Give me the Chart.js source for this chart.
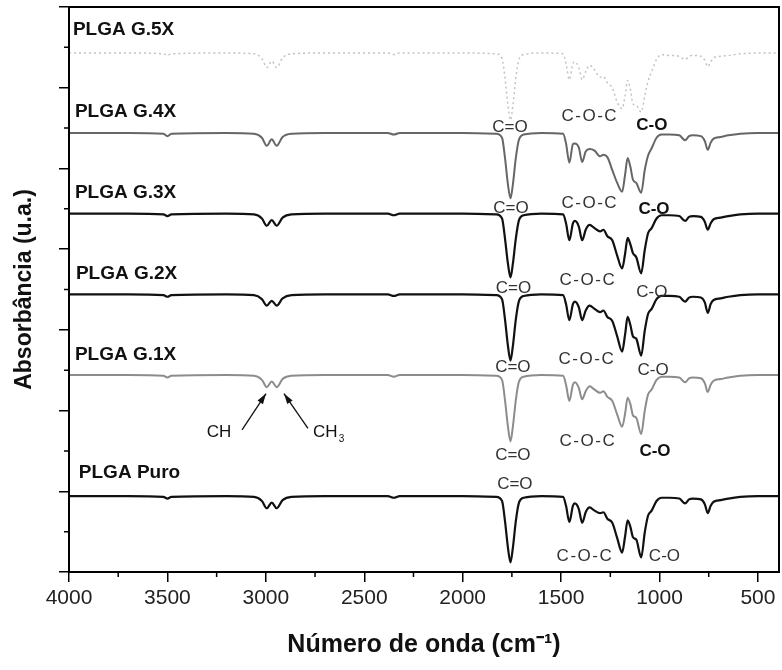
<!DOCTYPE html>
<html lang="pt">
<head>
<meta charset="UTF-8">
<title>FTIR - PLGA</title>
<script src="https://cdn.jsdelivr.net/npm/chart.js"></script>
<style>
  body { margin: 0; background: #fff; }
</style>
</head>
<body>
<canvas id="ftirChart" width="782" height="670"></canvas>
<script>
// wavenumbers (cm-1) shared by every spectrum
const wavenumber = [4000, 3700, 3520, 3500, 3480, 3200, 3060, 3020, 2995, 2970, 2945, 2915, 2870, 2700, 2380, 2350, 2320, 2000,
  1830, 1800, 1785, 1770, 1757, 1745, 1730, 1715, 1690, 1600, 1490, 1475, 1458, 1440, 1430, 1410, 1393, 1375, 1355, 1330,
  1302, 1285, 1265, 1240, 1215, 1190, 1175, 1162, 1148, 1135, 1118, 1093, 1075, 1058, 1040, 1015, 990, 950, 900, 870, 850,
  830, 790, 770, 755, 740, 725, 690, 650, 590, 500, 393];

// absorbance (u.a.), each spectrum already stacked as in the figure
const plgaG5x = [6.43, 6.43, 6.42, 6.40, 6.42, 6.43, 6.42, 6.36, 6.25, 6.33, 6.25, 6.37, 6.42, 6.43, 6.43, 6.41, 6.43, 6.43,
  6.42, 6.36, 6.12, 5.78, 5.60, 5.78, 6.12, 6.34, 6.41, 6.43, 6.42, 6.30, 6.10, 6.30, 6.32, 6.25, 6.10, 6.20, 6.28, 6.22,
  6.13, 6.14, 6.06, 6.00, 5.82, 5.74, 5.90, 6.09, 5.98, 5.80, 5.78, 5.70, 5.90, 6.08, 6.20, 6.35, 6.41, 6.40, 6.39, 6.35, 6.39,
  6.40, 6.39, 6.34, 6.26, 6.32, 6.37, 6.39, 6.40, 6.42, 6.43, 6.43];
const plgaG4x = [5.44, 5.44, 5.43, 5.40, 5.43, 5.44, 5.43, 5.38, 5.28, 5.36, 5.28, 5.39, 5.43, 5.44, 5.44, 5.42, 5.44, 5.44,
  5.43, 5.38, 5.13, 4.80, 4.63, 4.80, 5.13, 5.35, 5.42, 5.44, 5.43, 5.31, 5.07, 5.30, 5.31, 5.26, 5.08, 5.21, 5.24, 5.22,
  5.15, 5.17, 5.14, 4.98, 4.82, 4.71, 4.92, 5.13, 5.02, 4.86, 4.82, 4.70, 4.98, 5.16, 5.25, 5.38, 5.42, 5.42, 5.41, 5.35, 5.40,
  5.41, 5.40, 5.34, 5.23, 5.32, 5.37, 5.39, 5.41, 5.43, 5.44, 5.44];
const plgaG3x = [4.44, 4.44, 4.43, 4.41, 4.43, 4.44, 4.43, 4.38, 4.29, 4.36, 4.29, 4.39, 4.43, 4.44, 4.44, 4.42, 4.44, 4.44,
  4.43, 4.38, 4.13, 3.82, 3.65, 3.82, 4.13, 4.35, 4.42, 4.44, 4.43, 4.32, 4.11, 4.32, 4.35, 4.28, 4.11, 4.24, 4.30, 4.26,
  4.22, 4.24, 4.16, 4.11, 3.92, 3.76, 3.94, 4.14, 4.06, 3.95, 3.90, 3.70, 3.99, 4.20, 4.26, 4.38, 4.42, 4.42, 4.41, 4.35, 4.40,
  4.41, 4.40, 4.34, 4.24, 4.32, 4.37, 4.39, 4.41, 4.43, 4.44, 4.44];
const plgaG2x = [3.44, 3.44, 3.43, 3.41, 3.43, 3.44, 3.43, 3.38, 3.30, 3.36, 3.30, 3.39, 3.43, 3.44, 3.44, 3.42, 3.44, 3.44,
  3.43, 3.38, 3.13, 2.80, 2.62, 2.80, 3.13, 3.35, 3.42, 3.44, 3.43, 3.32, 3.12, 3.32, 3.35, 3.28, 3.12, 3.24, 3.30, 3.26,
  3.22, 3.24, 3.16, 3.11, 2.92, 2.73, 2.94, 3.16, 3.06, 2.92, 2.89, 2.68, 2.99, 3.20, 3.26, 3.38, 3.42, 3.42, 3.41, 3.35, 3.40,
  3.41, 3.40, 3.34, 3.21, 3.32, 3.37, 3.39, 3.41, 3.43, 3.44, 3.44];
const plgaG1x = [2.44, 2.44, 2.43, 2.41, 2.43, 2.44, 2.43, 2.38, 2.29, 2.36, 2.29, 2.39, 2.43, 2.44, 2.44, 2.42, 2.44, 2.44,
  2.43, 2.38, 2.13, 1.80, 1.62, 1.80, 2.13, 2.35, 2.42, 2.44, 2.43, 2.32, 2.12, 2.32, 2.35, 2.28, 2.14, 2.24, 2.30, 2.26,
  2.22, 2.24, 2.17, 2.12, 1.95, 1.80, 1.96, 2.16, 2.08, 1.94, 1.91, 1.71, 2.00, 2.20, 2.26, 2.38, 2.42, 2.42, 2.41, 2.35, 2.40,
  2.41, 2.40, 2.34, 2.23, 2.32, 2.37, 2.39, 2.41, 2.43, 2.44, 2.44];
const plgaPuro = [0.94, 0.94, 0.93, 0.91, 0.93, 0.94, 0.93, 0.88, 0.79, 0.86, 0.79, 0.89, 0.93, 0.94, 0.94, 0.92, 0.94, 0.94,
  0.93, 0.88, 0.63, 0.30, 0.12, 0.30, 0.63, 0.85, 0.92, 0.94, 0.93, 0.82, 0.62, 0.82, 0.85, 0.78, 0.61, 0.74, 0.80, 0.76,
  0.73, 0.74, 0.66, 0.61, 0.42, 0.24, 0.44, 0.64, 0.56, 0.43, 0.40, 0.18, 0.49, 0.70, 0.76, 0.88, 0.92, 0.92, 0.91, 0.85, 0.90,
  0.91, 0.90, 0.84, 0.73, 0.82, 0.87, 0.89, 0.91, 0.93, 0.94, 0.94];

const xMajorTicks = [4000, 3500, 3000, 2500, 2000, 1500, 1000, 500];
const xMinorTicks = [3750, 3250, 2750, 2250, 1750, 1250, 750];
const yMajorTicks = [0, 1, 2, 3, 4, 5, 6, 7];
const yMinorTicks = [0.5, 1.5, 2.5, 3.5, 4.5, 5.5, 6.5];

// sample names, placed in data units [text, wavenumber, absorbance]
const sampleLabels = [
  ['PLGA G.5X', 3980, 6.72],
  ['PLGA G.4X', 3970, 5.70],
  ['PLGA G.3X', 3970, 4.70],
  ['PLGA G.2X', 3965, 3.70],
  ['PLGA G.1X', 3970, 2.69],
  ['PLGA Puro', 3950, 1.23]
];

// band assignments [text, wavenumber, absorbance, bold]
const bandLabels = [
  ['C=O', 1760, 5.51, false], ['C-O-C', 1354, 5.64, false], ['C-O', 1039, 5.53, true],
  ['C=O', 1755, 4.51, false], ['C-O-C', 1354, 4.57, false], ['C-O', 1028, 4.49, true],
  ['C=O', 1742, 3.52, false], ['C-O-C', 1364, 3.62, false], ['C-O', 1039, 3.47, false],
  ['C=O', 1745, 2.53, false], ['C-O-C', 1369, 2.63, false], ['C-O', 1033, 2.50, false],
  ['C=O', 1745, 1.44, false], ['C-O-C', 1364, 1.62, false], ['C-O', 1023, 1.49, true],
  ['C=O', 1735, 1.09, false], ['C-O-C', 1379, 0.19, false], ['C-O', 975, 0.19, false]
];

// CH / CH3 arrows [tail wn, tail abs, tip wn, tip abs]
const chArrows = [
  [3121, 1.76, 2999, 2.21],
  [2786, 1.78, 2908, 2.21]
];

const FONT = 'Arial, "Liberation Sans", sans-serif';

function toPoints(values) {
  return wavenumber.map((w, i) => ({ x: w, y: values[i] }));
}

const overlay = {
  id: 'overlay',
  afterDraw(chart) {
    const { ctx, chartArea: a, scales: { x, y } } = chart;
    ctx.save();
    ctx.strokeStyle = '#000';
    ctx.lineWidth = 2;
    ctx.strokeRect(a.left, a.top, a.right - a.left, a.bottom - a.top);

    // minor ticks
    ctx.lineWidth = 1.5;
    ctx.beginPath();
    xMinorTicks.forEach(v => {
      const px = x.getPixelForValue(v);
      ctx.moveTo(px, a.bottom);
      ctx.lineTo(px, a.bottom + 5);
    });
    yMinorTicks.forEach(v => {
      const py = y.getPixelForValue(v);
      ctx.moveTo(a.left, py);
      ctx.lineTo(a.left - 5, py);
    });
    ctx.stroke();

    // sample names
    ctx.fillStyle = '#111';
    ctx.font = 'bold 19px ' + FONT;
    ctx.textAlign = 'left';
    ctx.textBaseline = 'middle';
    sampleLabels.forEach(([t, w, v]) => {
      ctx.fillText(t, x.getPixelForValue(w), y.getPixelForValue(v));
    });

    // band labels
    ctx.textAlign = 'center';
    bandLabels.forEach(([t, w, v, bold]) => {
      ctx.font = (bold ? 'bold ' : '') + '17px ' + FONT;
      ctx.fillStyle = bold ? '#111' : '#333';
      ctx.letterSpacing = t === 'C-O-C' ? '1.5px' : '0px';
      ctx.fillText(t, x.getPixelForValue(w), y.getPixelForValue(v));
    });
    ctx.letterSpacing = '0px';

    // CH / CH3 arrows
    ctx.strokeStyle = '#111';
    ctx.fillStyle = '#111';
    ctx.lineWidth = 1.3;
    chArrows.forEach(([w0, v0, w1, v1]) => {
      const x0 = x.getPixelForValue(w0), y0 = y.getPixelForValue(v0);
      const x1 = x.getPixelForValue(w1), y1 = y.getPixelForValue(v1);
      const ang = Math.atan2(y1 - y0, x1 - x0);
      ctx.beginPath();
      ctx.moveTo(x0, y0);
      ctx.lineTo(x1, y1);
      ctx.stroke();
      ctx.beginPath();
      ctx.moveTo(x1, y1);
      ctx.lineTo(x1 - 11 * Math.cos(ang - 0.3), y1 - 11 * Math.sin(ang - 0.3));
      ctx.lineTo(x1 - 11 * Math.cos(ang + 0.3), y1 - 11 * Math.sin(ang + 0.3));
      ctx.closePath();
      ctx.fill();
    });
    ctx.font = '17px ' + FONT;
    ctx.textAlign = 'center';
    ctx.fillText('CH', x.getPixelForValue(3238), y.getPixelForValue(1.73));
    ctx.textAlign = 'left';
    const chX = x.getPixelForValue(2760), chY = y.getPixelForValue(1.73);
    ctx.fillText('CH', chX, chY);
    const chW = ctx.measureText('CH').width;
    ctx.font = '10px ' + FONT;
    ctx.fillText('3', chX + chW + 1, chY + 7);
    ctx.restore();
  }
};

const ctx = document.getElementById('ftirChart').getContext('2d');
new Chart(ctx, {
  type: 'line',
  data: {
    datasets: [
      { label: 'PLGA G.5X', data: toPoints(plgaG5x), borderColor: '#c2c2c2', borderWidth: 1.5, borderDash: [2, 3] },
      { label: 'PLGA G.4X', data: toPoints(plgaG4x), borderColor: '#666666', borderWidth: 2 },
      { label: 'PLGA G.3X', data: toPoints(plgaG3x), borderColor: '#111111', borderWidth: 2.2 },
      { label: 'PLGA G.2X', data: toPoints(plgaG2x), borderColor: '#111111', borderWidth: 2.2 },
      { label: 'PLGA G.1X', data: toPoints(plgaG1x), borderColor: '#8c8c8c', borderWidth: 2 },
      { label: 'PLGA Puro', data: toPoints(plgaPuro), borderColor: '#111111', borderWidth: 2.2 }
    ]
  },
  options: {
    responsive: false,
    animation: false,
    layout: { padding: { top: 7, right: 3, left: 0, bottom: 0 } },
    elements: {
      point: { radius: 0 },
      line: { cubicInterpolationMode: 'monotone', fill: false }
    },
    plugins: {
      legend: { display: false },
      tooltip: { enabled: false }
    },
    scales: {
      x: {
        type: 'linear',
        reverse: true,
        min: 393,
        max: 4000,
        afterBuildTicks: scale => { scale.ticks = xMajorTicks.map(v => ({ value: v })); },
        afterFit: scale => { scale.height = 98; },
        grid: { drawOnChartArea: false, tickLength: 10, color: '#000', lineWidth: 1.5 },
        border: { color: '#000', width: 2 },
        ticks: { color: '#222', font: { family: FONT, size: 21 }, padding: 4, maxRotation: 0, callback: v => String(v) },
        title: {
          display: true,
          text: 'Número de onda (cm⁻¹)',
          color: '#111',
          font: { family: FONT, size: 25, weight: 'bold' },
          padding: { top: 0, bottom: 10 }
        }
      },
      y: {
        min: 0,
        max: 7,
        afterBuildTicks: scale => { scale.ticks = yMajorTicks.map(v => ({ value: v })); },
        afterFit: scale => { scale.width = 69; },
        grid: { drawOnChartArea: false, tickLength: 10, color: '#000', lineWidth: 1.5 },
        border: { color: '#000', width: 2 },
        ticks: { display: false },
        title: {
          display: true,
          text: 'Absorbância (u.a.)',
          color: '#111',
          font: { family: FONT, size: 23, weight: 'bold' },
          padding: { top: 11, bottom: 0 }
        }
      }
    }
  },
  plugins: [overlay]
});
</script>
</body>
</html>
